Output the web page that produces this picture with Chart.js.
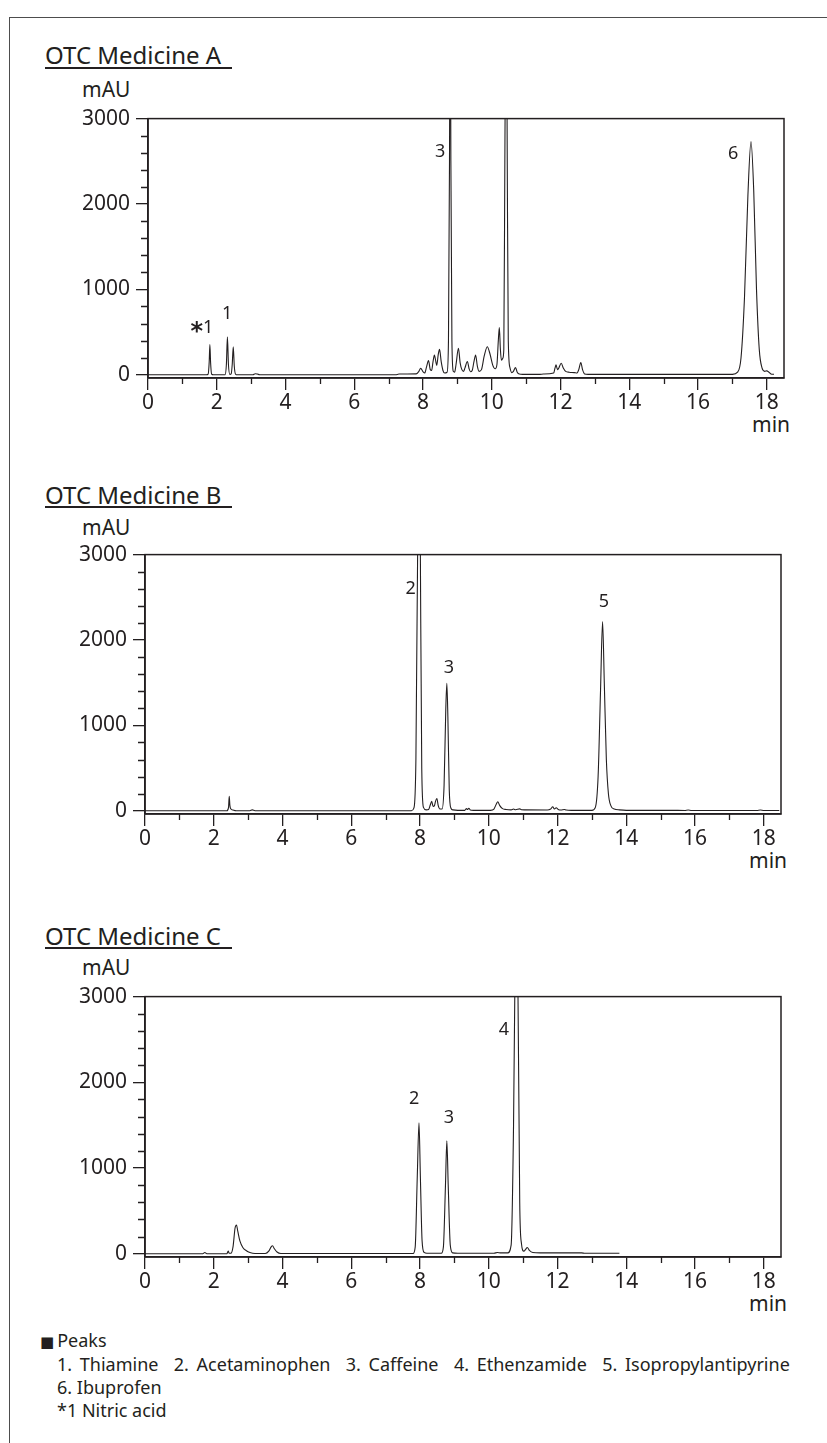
<!DOCTYPE html>
<html>
<head>
<meta charset="utf-8">
<script src="https://cdn.jsdelivr.net/npm/chart.js@4/dist/chart.umd.min.js"></script>
<style>
  html, body { margin: 0; padding: 0; background: #ffffff; }
  body { width: 827px; height: 1443px; position: relative; overflow: hidden;
         font-family: "Noto Sans", "Open Sans", sans-serif; color: #231f20; }
  .frameTop { position: absolute; left: 9px; top: 17px; width: 818px; height: 0; border-top: 1.5px solid #4d4d4d; }
  .frameLeft { position: absolute; left: 9px; top: 17px; width: 0; height: 1426px; border-left: 1.5px solid #4d4d4d; }
  .title { position: absolute; left: 45px; font-size: 24px; line-height: 28px; white-space: nowrap; }
  .uline { position: absolute; left: 45px; width: 187px; height: 0; border-top: 2px solid #231f20; }
  .unit { position: absolute; font-size: 21px; line-height: 25px; white-space: nowrap; }
  .note { position: absolute; left: 57px; font-size: 18px; line-height: 20px; white-space: pre; }
  .sq { font-family: "DejaVu Sans", sans-serif; font-size: 15px; margin-right: 3px; }
  canvas { position: absolute; left: 0; }
</style>
</head>
<body>
<div class="frameTop"></div>
<div class="frameLeft"></div>

<div class="title" style="top:41px">OTC Medicine A</div>
<div class="uline" style="top:67px"></div>
<div class="unit" style="left:82px; top:77px">mAU</div>
<div class="unit" style="left:752px; top:412px">min</div>

<div class="title" style="top:481px">OTC Medicine B</div>
<div class="uline" style="top:506px"></div>
<div class="unit" style="left:82px; top:515px">mAU</div>
<div class="unit" style="left:749px; top:848px">min</div>

<div class="title" style="top:922px">OTC Medicine C</div>
<div class="uline" style="top:947px"></div>
<div class="unit" style="left:82px; top:955px">mAU</div>
<div class="unit" style="left:749px; top:1291px">min</div>

<div class="note" style="left:40px; top:1330px"><span class="sq">■</span>Peaks</div>
<div class="note" style="top:1354px; word-spacing:3px">1. Thiamine  2. Acetaminophen  3. Caffeine  4. Ethenzamide  5. Isopropylantipyrine</div>
<div class="note" style="top:1377px">6. Ibuprofen</div>
<div class="note" style="top:1400px">*1 Nitric acid</div>

<canvas id="chartA"></canvas>
<canvas id="chartB"></canvas>
<canvas id="chartC"></canvas>

<script>
// ---------------- DATA ----------------
const xTickValues = [0, 2, 4, 6, 8, 10, 12, 14, 16, 18];
const xMinorTickValues = [1, 3, 5, 7, 9, 11, 13, 15, 17];
const yTickValues = [0, 1000, 2000, 3000];
const yTickLabels = ['0', '1000', '2000', '3000'];
const yMinorTickValues = [200, 400, 600, 800, 1200, 1400, 1600, 1800, 2200, 2400, 2600, 2800];

// OTC Medicine A : retention time (min) / absorbance (mAU)
const timeA = [0, 1.70, 1.75, 1.78, 1.80, 1.82, 1.85, 1.90, 2.24, 2.28, 2.31, 2.34, 2.38, 2.42, 2.45, 2.48, 2.51, 2.55, 2.60,
  3.05, 3.12, 3.18, 3.25, 7.20, 7.30, 7.80, 7.88, 7.93, 7.97, 8.01, 8.05, 8.10, 8.16, 8.21, 8.25, 8.29, 8.33, 8.37, 8.40,
  8.44, 8.48, 8.53, 8.58, 8.63, 8.70, 8.74, 8.77, 8.79, 8.81, 8.84, 8.88, 8.92, 8.96, 9.03, 9.08, 9.13, 9.18, 9.22, 9.29,
  9.34, 9.38, 9.43, 9.48, 9.53, 9.58, 9.63, 9.70, 9.78, 9.87, 9.95, 10.03, 10.10, 10.15, 10.19, 10.22, 10.25, 10.28, 10.32,
  10.35, 10.38, 10.42, 10.45, 10.48, 10.53, 10.58, 10.63, 10.69, 10.74, 10.80, 10.90, 11.40, 11.50, 11.80, 11.84, 11.87,
  11.91, 11.95, 12.02, 12.08, 12.15, 12.25, 12.40, 12.48, 12.53, 12.59, 12.64, 12.70, 12.80, 17.00, 17.15, 17.25, 17.35,
  17.45, 17.54, 17.62, 17.70, 17.78, 17.86, 17.94, 18.00, 18.06, 18.12, 18.21];
const signalA = [0, 0, 8, 150, 355, 150, 8, 0, 0, 120, 444, 120, 5, 10, 120, 328, 100, 5, 0,
  0, 12, 8, 0, 0, 8, 10, 40, 77, 55, 30, 20, 90, 166, 60, 50, 150, 232, 160, 110,
  230, 297, 150, 50, 20, 30, 400, 2500, 5000, 2500, 400, 40, 30, 120, 309, 140, 60, 40, 80, 155,
  70, 35, 50, 150, 232, 100, 40, 60, 220, 328, 240, 110, 70, 120, 400, 552, 300, 170, 193,
  300, 2500, 5000, 2500, 400, 80, 25, 40, 85, 30, 8, 5, 5, 8, 20, 80, 116,
  60, 80, 135, 80, 40, 30, 25, 20, 60, 143, 60, 10, 5, 5, 30, 200, 900,
  2100, 2730, 2150, 1000, 300, 80, 40, 46, 30, 10, 5];

// OTC Medicine B
const timeB = [0, 2.38, 2.43, 2.45, 2.47, 2.50, 2.56, 2.65, 3.05, 3.12, 3.20, 7.75, 7.82, 7.88, 7.93, 7.97, 8.01, 8.05, 8.10,
  8.18, 8.25, 8.30, 8.34, 8.38, 8.42, 8.45, 8.49, 8.53, 8.58, 8.64, 8.70, 8.75, 8.78, 8.81, 8.85, 8.90, 8.96, 9.10, 9.30,
  9.35, 9.38, 9.42, 9.46, 9.55, 10.05, 10.15, 10.22, 10.26, 10.32, 10.40, 10.50, 10.65, 10.72, 10.78, 10.90, 10.95, 11.05,
  11.70, 11.80, 11.86, 11.91, 11.96, 12.02, 12.10, 12.20, 12.25, 12.40, 13.00, 13.10, 13.18, 13.25, 13.31, 13.36, 13.42,
  13.48, 13.55, 13.65, 13.80, 14.00, 15.30, 15.70, 15.80, 15.90, 17.80, 17.90, 18.00, 18.45];
const signalB = [0, 0, 40, 170, 60, 20, 8, 0, 0, 10, 0, 0, 30, 600, 3000, 6000, 3000, 500, 40,
  10, 15, 70, 112, 50, 60, 110, 143, 60, 20, 20, 300, 1200, 1494, 1100, 250, 30, 10, 5, 5,
  25, 15, 30, 10, 5, 5, 20, 80, 105, 60, 25, 15, 10, 20, 12, 22, 12, 10,
  8, 20, 47, 20, 35, 15, 8, 15, 8, 5, 5, 40, 400, 1400, 2217, 1500, 600,
  200, 60, 20, 10, 5, 5, 3, 8, 3, 3, 8, 3, 3];

// OTC Medicine C
const timeC = [0, 1.68, 1.74, 1.80, 2.38, 2.42, 2.45, 2.50, 2.56, 2.62, 2.66, 2.70, 2.76, 2.85, 2.95, 3.05, 3.20, 3.50,
  3.60, 3.67, 3.71, 3.76, 3.84, 3.95, 7.80, 7.86, 7.92, 7.97, 8.01, 8.06, 8.12, 8.20, 8.62, 8.68, 8.74, 8.78, 8.82, 8.88,
  8.95, 9.10, 10.15, 10.25, 10.35, 10.55, 10.65, 10.72, 10.78, 10.81, 10.85, 10.90, 10.95, 11.02, 11.07, 11.12, 11.18,
  11.28, 11.50, 12.70, 12.80, 13.00, 13.70, 13.80];
const signalC = [0, 0, 15, 0, 0, 30, 5, 5, 80, 300, 336, 260, 150, 70, 35, 15, 3, 3,
  30, 80, 93, 60, 20, 3, 3, 80, 900, 1529, 900, 150, 15, 5, 5, 80, 800, 1317, 800, 100,
  10, 5, 5, 15, 10, 10, 100, 1500, 4000, 6000, 3000, 600, 120, 30, 50, 73, 40,
  15, 10, 10, 5, 5, 5, 5];

// Peak labels: text, retention time, mAU anchor
const peakLabelsA = [['*1', 1.57, 545], ['1', 2.30, 718], ['3', 8.50, 2606], ['6', 17.02, 2583]];
const peakLabelsB = [['2', 7.73, 2595], ['3', 8.84, 1668], ['5', 13.35, 2449]];
const peakLabelsC = [['2', 7.83, 1804], ['3', 8.84, 1590], ['4', 10.44, 2610]];

// ---------------- RENDERING ----------------
const INK = '#231f20';
const FONT = '"Noto Sans", "Open Sans", sans-serif';
Chart.defaults.font.family = FONT;

const frameAndMinorTicks = {
  id: 'frameAndMinorTicks',
  afterDraw(chart) {
    const { ctx, chartArea: a, scales } = chart;
    ctx.save();
    ctx.strokeStyle = INK;
    ctx.lineWidth = 1.5;
    ctx.strokeRect(a.left, a.top, a.right - a.left, a.bottom - a.top);
    ctx.lineWidth = 1.3;
    ctx.beginPath();
    xMinorTickValues.forEach(v => {
      const px = Math.round(scales.x.getPixelForValue(v)) + 0.5;
      ctx.moveTo(px, a.bottom); ctx.lineTo(px, a.bottom + 6);
    });
    yMinorTickValues.forEach(v => {
      const py = Math.round(scales.y.getPixelForValue(v)) + 0.5;
      ctx.moveTo(a.left - 7, py); ctx.lineTo(a.left, py);
    });
    ctx.stroke();
    ctx.restore();
  }
};

const peakLabelPlugin = {
  id: 'peakLabels',
  afterDatasetsDraw(chart, args, opts) {
    const { ctx, scales } = chart;
    ctx.save();
    ctx.fillStyle = INK;
    ctx.textBaseline = 'middle';
    (opts.items || []).forEach(([text, t, v]) => {
      const x = scales.x.getPixelForValue(t), y = scales.y.getPixelForValue(v);
      if (text.charAt(0) === '*') {
        // the reference uses a large, heavy asterisk before the number
        ctx.font = 'bold 24px "DejaVu Sans", sans-serif';
        const sw = ctx.measureText('*').width;
        ctx.font = '18px ' + FONT;
        const rest = text.slice(1);
        const rw = ctx.measureText(rest).width;
        const x0 = x - (sw + rw) / 2;
        ctx.textAlign = 'left';
        ctx.font = 'bold 24px "DejaVu Sans", sans-serif';
        ctx.fillText('*', x0, y + 5);
        ctx.font = '18px ' + FONT;
        ctx.fillText(rest, x0 + sw, y);
      } else {
        ctx.font = '18px ' + FONT;
        ctx.textAlign = 'center';
        ctx.fillText(text, x, y);
      }
    });
    ctx.restore();
  }
};

function makeChart(id, times, signal, labels, box) {
  const canvas = document.getElementById(id);
  canvas.width = 827;
  canvas.height = box.canvasH;
  canvas.style.width = '827px';
  canvas.style.height = box.canvasH + 'px';
  canvas.style.top = box.canvasTop + 'px';
  const tickFont = { family: FONT, size: 21 };
  return new Chart(canvas, {
    type: 'line',
    data: {
      datasets: [{
        data: times.map((t, i) => ({ x: t, y: signal[i] })),
        borderColor: INK,
        borderWidth: 1.1,
        pointRadius: 0,
        cubicInterpolationMode: 'monotone',
        fill: false
      }]
    },
    options: {
      responsive: false,
      animation: false,
      devicePixelRatio: 1,
      layout: { padding: { left: 0, right: 827 - box.right, top: box.top - box.canvasTop, bottom: 0 } },
      plugins: {
        legend: { display: false },
        tooltip: { enabled: false },
        peakLabels: { items: labels }
      },
      scales: {
        x: {
          type: 'linear', min: 0, max: 18.5,
          afterBuildTicks: s => { s.ticks = xTickValues.map(v => ({ value: v })); },
          afterFit: s => { s.height = box.canvasTop + box.canvasH - box.bottom; },
          grid: { drawOnChartArea: false, drawTicks: true, tickLength: 12, color: INK, lineWidth: 1.3 },
          border: { display: true, color: INK, width: 1.6 },
          ticks: { color: INK, font: tickFont, padding: 0, maxRotation: 0, autoSkip: false,
                   callback: v => String(v) }
        },
        y: {
          type: 'linear', min: -38, max: 3000,
          afterBuildTicks: s => { s.ticks = yTickValues.map(v => ({ value: v })); },
          afterFit: s => { s.width = box.left; },
          grid: { drawOnChartArea: false, drawTicks: true, tickLength: 12, color: INK, lineWidth: 1.3 },
          border: { display: true, color: INK, width: 1.6 },
          ticks: { color: INK, font: tickFont, padding: 6, autoSkip: false,
                   callback: v => yTickLabels[yTickValues.indexOf(v)] }
        }
      }
    },
    plugins: [frameAndMinorTicks, peakLabelPlugin]
  });
}

makeChart('chartA', timeA, signalA, peakLabelsA, { canvasTop: 100, canvasH: 320, left: 148, right: 784, top: 116, bottom: 378 });
makeChart('chartB', timeB, signalB, peakLabelsB, { canvasTop: 536, canvasH: 320, left: 145, right: 781, top: 552, bottom: 814 });
makeChart('chartC', timeC, signalC, peakLabelsC, { canvasTop: 978, canvasH: 321, left: 145, right: 781, top: 994, bottom: 1257 });
</script>
</body>
</html>
